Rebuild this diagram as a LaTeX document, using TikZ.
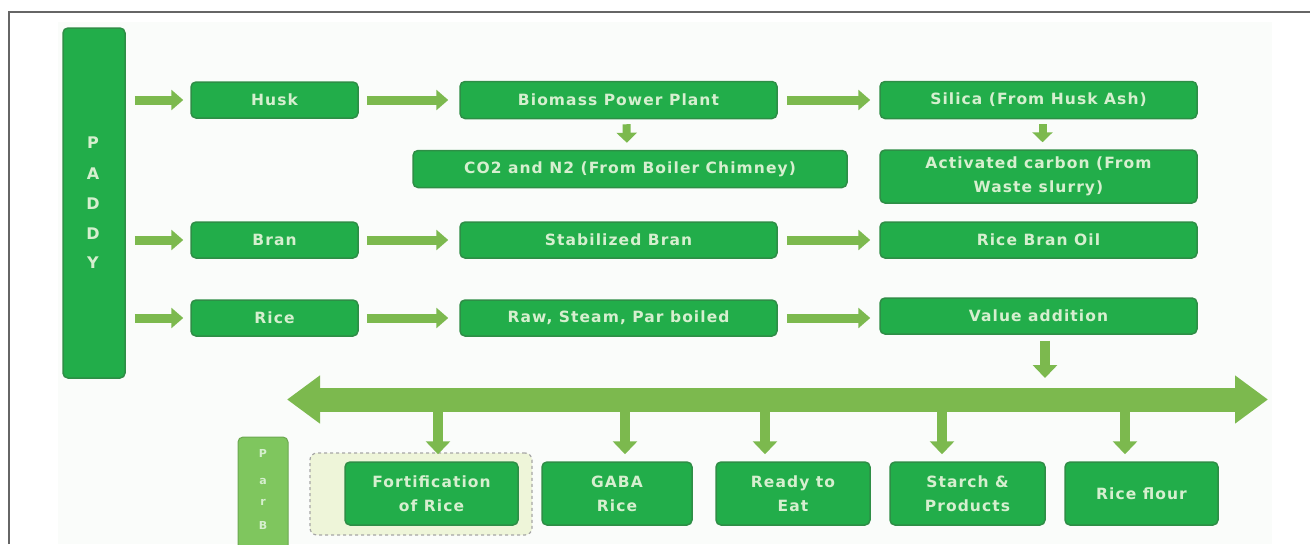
\documentclass[tikz,border=0pt]{standalone}
\usepackage{fontspec}
\setmainfont{DejaVu Sans}
\newfontfamily\boxfont[LetterSpace=7]{DejaVu Sans}
\usetikzlibrary{arrows.meta,calc}
\definecolor{boxg}{HTML}{22AD4A}
\definecolor{boxb}{HTML}{2E8E46}
\definecolor{arrg}{HTML}{7CB94E}
\definecolor{txtg}{HTML}{D6EFCF}
\definecolor{lightg}{HTML}{7FC65E}
\definecolor{fortbgc}{HTML}{EEF5D9}
\definecolor{framec}{HTML}{666666}
\definecolor{panel}{HTML}{FAFCFA}
\begin{document}
\begin{tikzpicture}[x=1pt,y=-1pt,
  box/.style={draw=boxb,line width=1.5pt,fill=boxg,rounded corners=5pt,text=txtg,
    font=\boxfont\fontsize{15.5}{24}\selectfont\bfseries,align=center,inner sep=0pt},
  rowarr/.style={draw=arrg,line width=9pt,-{Triangle[length=12pt,width=20pt]}},
  smallarr/.style={draw=arrg,line width=8pt,-{Triangle[length=10pt,width=20pt]}},
  downarr/.style={draw=arrg,line width=10pt,-{Triangle[length=13pt,width=24pt]}},
  bigarr/.style={draw=arrg,line width=24pt,{Triangle[length=33pt,width=46pt]}-{Triangle[length=33pt,width=46pt]}},
  letter/.style={text=txtg,font=\boxfont\fontsize{16}{18}\selectfont\bfseries,inner sep=0pt}
]
\clip (0,0) rectangle (1310,544);
\fill[white] (0,0) rectangle (1310,544);
\fill[panel] (58,22) rectangle (1272,544);
% frame
\draw[framec,line width=1.5pt] (9,544) -- (9,12) -- (1310,12);

% PADDY
\node[box,minimum width=62pt,minimum height=350pt] (paddy) at (94,203) {};
\node[letter] (pP) at (93,143) {P};
\node[letter] (pA) at (93,174) {A};
\node[letter] (pD1) at (93,204) {D};
\node[letter] (pD2) at (93,234) {D};
\node[letter] (pY) at (93,263) {Y};

% column 1
\node[box,minimum width=167pt,minimum height=36pt] (husk) at (274.5,100) {Husk};
\node[box,minimum width=167pt,minimum height=36pt] (bran) at (274.5,240) {Bran};
\node[box,minimum width=167pt,minimum height=36pt] (rice) at (274.5,318) {Rice};
% column 2
\node[box,minimum width=317pt,minimum height=37pt] (biomass) at (618.5,100) {Biomass Power Plant};
\node[box,minimum width=434pt,minimum height=37pt] (co2) at (630,169) {CO2 and N2 (From Boiler Chimney)};
\node[box,minimum width=317pt,minimum height=36pt] (stab) at (618.5,240) {Stabilized Bran};
\node[box,minimum width=317pt,minimum height=36pt] (raw) at (618.5,318) {Raw, Steam, Par boiled};
% column 3
\node[box,minimum width=317pt,minimum height=37pt] (silica) at (1038.5,100) {Silica (From Husk Ash)};
\node[box,minimum width=317pt,minimum height=53pt] (actc) at (1038.5,176.5) {Activated carbon (From\\Waste slurry)};
\node[box,minimum width=317pt,minimum height=36pt] (rbo) at (1038.5,240) {Rice Bran Oil};
\node[box,minimum width=317pt,minimum height=36pt] (va) at (1038.5,316) {Value addition};

% row arrows
\foreach \a in {husk,bran,rice}{
  \draw[rowarr,shorten <=9pt,shorten >=7pt] (paddy.east |- \a.west) -- (\a.west);
}
\draw[rowarr,shorten <=8pt,shorten >=11pt] (husk.east) -- (biomass.west);
\draw[rowarr,shorten <=8pt,shorten >=11pt] (bran.east) -- (stab.west);
\draw[rowarr,shorten <=8pt,shorten >=11pt] (rice.east) -- (raw.west);
\draw[rowarr,shorten <=9pt,shorten >=9pt] (biomass.east) -- (silica.west);
\draw[rowarr,shorten <=9pt,shorten >=9pt] (stab.east) -- (rbo.west);
\draw[rowarr,shorten <=9pt,shorten >=9pt] (raw.east) -- (raw.east -| va.west);

% small down arrows
\draw[smallarr,shorten <=5pt,shorten >=7pt] ($(biomass.south)+(8,0)$) -- ($(co2.north)+(-3,0)$);
\draw[smallarr,shorten <=5pt,shorten >=7pt] ($(silica.south)+(4,0)$) -- ($(actc.north)+(4,0)$);

% big double arrow
\coordinate (bigL) at (287,399.5);
\coordinate (bigR) at (1268,399.5);
\draw[bigarr] (bigL) -- (bigR);
\coordinate (vaend) at (1045,378);
\draw[downarr,shorten <=6pt] (va.south -| vaend) -- (vaend);

% fortification background
\node[draw=gray!70,dashed,line width=1.2pt,fill=fortbgc,rounded corners=7pt,minimum width=222pt,minimum height=82pt,inner sep=0pt] (fortbg) at (421,494) {};

% bottom boxes
\node[box,minimum width=173pt,minimum height=63pt] (fort) at (431.5,493.5) {Fortification\\of Rice};
\node[box,minimum width=150pt,minimum height=63pt] (gaba) at (617,493.5) {GABA\\Rice};
\node[box,minimum width=154pt,minimum height=63pt] (ready) at (793,493.5) {Ready to\\Eat};
\node[box,minimum width=155pt,minimum height=63pt] (starch) at (967.5,493.5) {Starch \&\\Products};
\node[box,minimum width=153pt,minimum height=63pt] (flour) at (1141.5,493.5) {Rice flour};

% down arrows from the big arrow
\foreach \n/\x in {fort/438,gaba/625,ready/765,starch/942,flour/1125}{
  \coordinate (s\n) at (\x,411);
  \draw[downarr,shorten >=7pt] (s\n) -- (s\n |- \n.north);
}

% small side box
\node[draw=lightg!85!black,line width=1pt,fill=lightg,rounded corners=5pt,minimum width=50pt,minimum height=130pt,inner sep=0pt] (par) at (263,502) {};
\node[letter,font=\fontsize{11}{13}\selectfont\bfseries] (par1) at (263,453) {P};
\node[letter,font=\fontsize{11}{13}\selectfont\bfseries] (par2) at (263,481) {a};
\node[letter,font=\fontsize{11}{13}\selectfont\bfseries] (par3) at (263,502) {r};
\node[letter,font=\fontsize{11}{13}\selectfont\bfseries] (par4) at (263,525) {B};
\end{tikzpicture}
\end{document}
